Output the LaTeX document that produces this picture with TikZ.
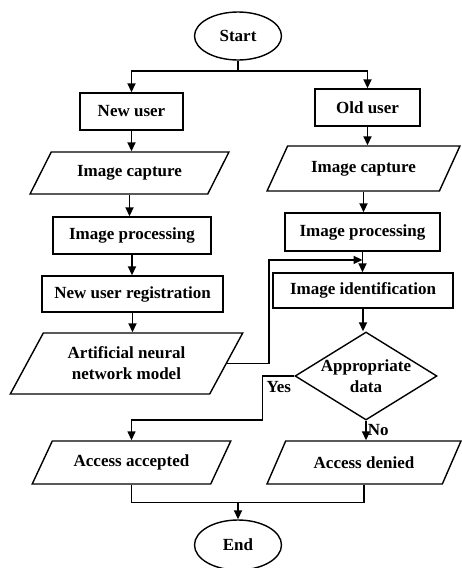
\documentclass[tikz,border=0pt]{standalone}
\usepackage{fontspec}
\setmainfont{Liberation Serif}
\usetikzlibrary{shapes.geometric, arrows.meta, positioning, calc}

\begin{document}
\begin{tikzpicture}[x=1pt, y=-1pt,
    font=\bfseries\fontsize{17}{21}\selectfont,
    procbox/.style={draw, rectangle, line width=1.4pt, minimum height=37pt, inner sep=2pt},
    iobox/.style={draw, trapezium, trapezium left angle=52, trapezium right angle=128,
        trapezium stretches=true, line width=1.4pt, minimum height=43pt, inner sep=2pt},
    termbox/.style={draw, ellipse, line width=1.4pt, minimum width=87pt, minimum height=48pt},
    decbox/.style={draw, diamond, aspect=1.6, line width=1.4pt, inner sep=-2pt,
        minimum width=142pt, minimum height=88pt, align=center},
    arr/.style={-{Triangle[length=9pt,width=8pt]}, line width=1.8pt},
    link/.style={line width=1.4pt}]
    \useasboundingbox (0,0) rectangle (461,568);

    % 开始与分支
    \node[termbox] (start) at (238,36) {Start};
    \node[procbox, minimum width=103pt] (newuser) at (131.5,111.5) {New user};
    \node[procbox, minimum width=105pt] (olduser) at (367.5,107.5) {Old user};

    % 新用户一列
    \node[iobox, minimum width=199pt, minimum height=42pt] (capL) at (129.5,173) {Image capture};
    \node[procbox, minimum width=158pt] (procL) at (132,235.5) {Image processing};
    \node[procbox, minimum width=181pt, minimum height=36pt] (reg) at (132.5,294) {New user registration};
    \node[iobox, minimum width=233pt, minimum height=61pt, align=center,
        trapezium left angle=57, trapezium right angle=123] (ann) at (126.5,363.5)
        {Artificial neural\\network model};

    % 老用户一列
    \node[iobox, minimum width=193pt, minimum height=45pt] (capR) at (363.5,168.5) {Image capture};
    \node[procbox, minimum width=155pt, minimum height=38pt] (procR) at (362.5,232) {Image processing};
    \node[procbox, minimum width=180pt, minimum height=35pt] (ident) at (363,290.5) {Image identification};
    \node[decbox] (dec) at (366,376) {Appropriate\\data};

    % 结果与结束
    \node[iobox, minimum width=199pt] (acc) at (131.5,462.5) {Access accepted};
    \node[iobox, minimum width=194pt] (den) at (364,462.5) {Access denied};
    \node[termbox, minimum height=50pt] (stop) at (238,545) {End};

    % 连线
    \draw[link] (start.south) -- ++(0,10) coordinate (fork);
    \draw[arr] (fork) -| (newuser.north);
    \draw[arr] (fork) -| (olduser.north);
    \foreach \a/\b in {newuser/capL, capL/procL, procL/reg, reg/ann,
                       olduser/capR, capR/procR, procR/ident, ident/dec}
        \draw[arr] (\a.south) -- (\a.south |- \b.north);

    % 模型接入识别
    \coordinate (join) at ($(procR.south)!0.4!(procR.south |- ident.north)$);
    \draw[link, -{Triangle[length=9pt,width=8pt]}] (ann.east) -- ++(42,0) |- (join);

    % 判断分支
    \draw[link, -{Triangle[length=9pt,width=8pt]}] (dec.west) -- ++(-32,0) coordinate (yescorner)
        -- ++(0,44) -| (acc.north);
    \node[anchor=north west, inner sep=1pt] (yes) at ($(yescorner)+(3,4)$) {Yes};
    \draw[arr] (dec.south) -- (dec.south |- den.north)
        node[midway, right, inner sep=1pt] (no) {No};

    % 汇合
    \draw[link] (acc.south) -- ++(0,18) coordinate (merge) -| (den.south);
    \draw[arr] (merge -| stop.north) -- (stop.north);
\end{tikzpicture}
\end{document}
